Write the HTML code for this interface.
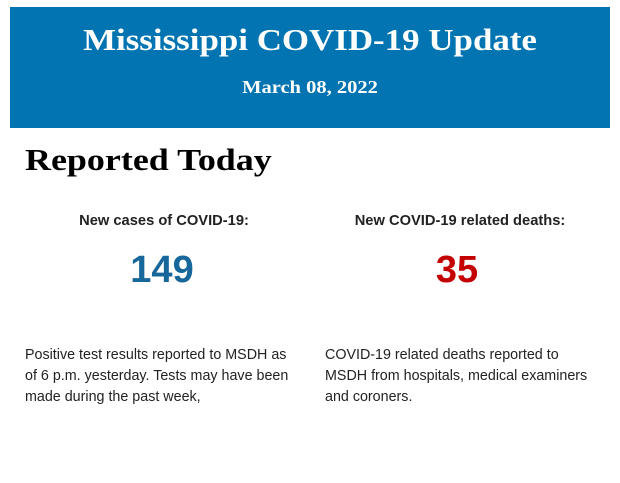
<!DOCTYPE html>
<html><head><style>
body{margin:0;width:620px;height:483px;background:#fff;position:relative;overflow:hidden;font-family:"Liberation Sans",sans-serif;}
.ban{position:absolute;left:10px;top:7px;width:600px;height:121px;background:#0174b1;color:#fff;font-family:"Liberation Serif",serif;font-weight:bold;text-align:center;}
.t{position:absolute;left:0;right:0;top:15px;font-size:31px;transform:scaleX(1.126);}
.d{position:absolute;left:0;right:0;top:70px;font-size:18px;transform:scaleX(1.14);}
h1{position:absolute;left:25px;top:142px;margin:0;font-family:"Liberation Serif",serif;font-size:31px;font-weight:bold;color:#000;transform:scaleX(1.16);transform-origin:0 0;}
.l{position:absolute;top:213px;font-size:14.7px;font-weight:bold;color:#222;text-align:center;width:300px;}
.n{position:absolute;top:249px;font-size:38px;font-weight:bold;text-align:center;width:300px;}
.p{position:absolute;top:345px;font-size:14.3px;line-height:21px;color:#222;width:274px;}
</style></head><body>
<div class="ban"><div class="t">Mississippi COVID-19 Update</div><div class="d">March 08, 2022</div></div>
<h1>Reported Today</h1>
<div class="l" style="left:14px">New cases of COVID-19:</div>
<div class="l" style="left:310px">New COVID-19 related deaths:</div>
<div class="n" style="left:12px;color:#17679a">149</div>
<div class="n" style="left:307px;color:#c40000">35</div>
<div class="p" style="left:25px">Positive test results reported to MSDH as of 6 p.m. yesterday. Tests may have been made during the past week,</div>
<div class="p" style="left:325px">COVID-19 related deaths reported to MSDH from hospitals, medical examiners and coroners.</div>
</body></html>
